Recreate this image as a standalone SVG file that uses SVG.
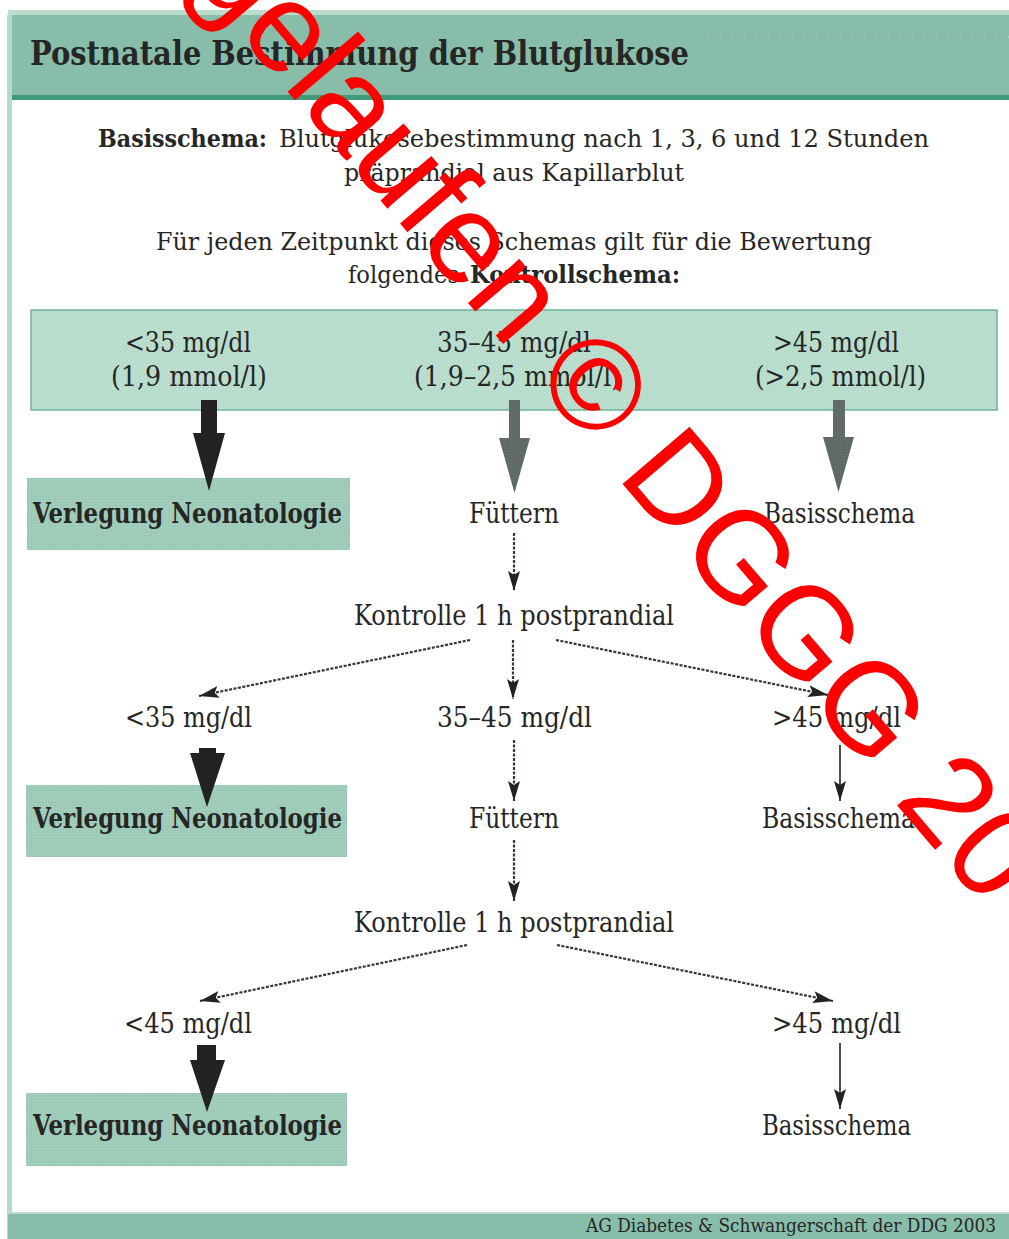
<svg xmlns="http://www.w3.org/2000/svg" width="1009" height="1239" viewBox="0 0 1009 1239">
<style>
.t{font-family:"DejaVu Serif Condensed","DejaVu Serif",serif;fill:#262626;font-size:27px}
.b{font-weight:bold}
.i{font-size:25px}
.dash{fill:none;stroke:#2e3a36;stroke-width:2.2;stroke-dasharray:3 1.5}
.solid{fill:none;stroke:#222;stroke-width:1.6}
.fatK{fill:#222}
.fatG{fill:url(#grayDots)}
.wm{font-family:"Liberation Sans",Arial,sans-serif;font-size:128px;fill:#ff0000}
</style>
<defs>
<pattern id="boxDots" width="4" height="4" patternUnits="userSpaceOnUse">
<rect width="4" height="4" fill="#b4dbca"/>
<circle cx="1" cy="1" r="0.6" fill="#ffffff" opacity="0.75"/>
<circle cx="3" cy="3" r="0.5" fill="#ffffff" opacity="0.5"/>
</pattern>
<pattern id="nodeDots" width="3" height="3" patternUnits="userSpaceOnUse">
<rect width="3" height="3" fill="#a2cfbc"/>
<circle cx="1" cy="1" r="0.6" fill="#7eae9b" opacity="0.8"/>
</pattern>
<pattern id="grayDots" width="3" height="3" patternUnits="userSpaceOnUse">
<rect width="3" height="3" fill="#5d6866"/>
<circle cx="1" cy="1" r="0.5" fill="#8a9693" opacity="0.7"/>
</pattern>
<marker id="ah" markerUnits="userSpaceOnUse" viewBox="0 0 20 12" refX="20" refY="6" markerWidth="20" markerHeight="12" orient="auto">
<path d="M0,0 L20,6 L0,12 L4,6 z" fill="#222"/>
</marker>
</defs>

<rect width="1009" height="1239" fill="#ffffff"/>

<g id="frame">
<rect x="8" y="10" width="1001" height="6" fill="#bcdccd"/>
<rect x="8" y="15" width="1001" height="80" fill="#88bdaa"/>
<line x1="708" y1="37" x2="1009" y2="37" stroke="#ffffff" stroke-width="1.2" stroke-dasharray="1 11" opacity="0.6"/>
<rect x="8" y="95" width="1001" height="5" fill="#3f9a78"/>
<rect x="7" y="15" width="5" height="1224" fill="#b5dac9"/>
<rect x="8" y="1212" width="1001" height="2" fill="#bcdccd"/>
<rect x="8" y="1214" width="1001" height="25" fill="#88bdaa"/>
<text class="t b" x="30" y="65" style="font-size:34px" textLength="659" lengthAdjust="spacingAndGlyphs">Postnatale Bestimmung der Blutglukose</text>
<text class="t" x="586" y="1232" style="font-size:19px" textLength="410" lengthAdjust="spacingAndGlyphs">AG Diabetes &amp; Schwangerschaft der DDG 2003</text>
</g>

<g id="intro">
<text class="t i b" x="98" y="147" textLength="169" lengthAdjust="spacingAndGlyphs">Basisschema:</text>
<text class="t i" x="279" y="147" textLength="650" lengthAdjust="spacingAndGlyphs">Blutglukosebestimmung nach 1, 3, 6 und 12 Stunden</text>
<text class="t i" x="344" y="181" textLength="340" lengthAdjust="spacingAndGlyphs">präprandial aus Kapillarblut</text>
<text class="t i" x="156" y="250" textLength="716" lengthAdjust="spacingAndGlyphs">Für jeden Zeitpunkt dieses Schemas gilt für die Bewertung</text>
<text class="t i" x="348" y="283" textLength="111" lengthAdjust="spacingAndGlyphs">folgendes</text>
<text class="t i b" x="470" y="283" textLength="210" lengthAdjust="spacingAndGlyphs">Kontrollschema:</text>
</g>

<g id="kontrollschema">
<rect x="31" y="310" width="966" height="100" fill="url(#boxDots)" stroke="#6fb497" stroke-width="1.5"/>
<text class="t" x="125" y="352" textLength="126" lengthAdjust="spacingAndGlyphs">&lt;35 mg/dl</text>
<text class="t" x="111" y="386" textLength="156" lengthAdjust="spacingAndGlyphs">(1,9 mmol/l)</text>
<text class="t" x="437" y="352" textLength="154" lengthAdjust="spacingAndGlyphs">35–45 mg/dl</text>
<text class="t" x="414" y="386" textLength="207" lengthAdjust="spacingAndGlyphs">(1,9–2,5 mmol/l)</text>
<text class="t" x="773" y="352" textLength="126" lengthAdjust="spacingAndGlyphs">&gt;45 mg/dl</text>
<text class="t" x="755" y="386" textLength="171" lengthAdjust="spacingAndGlyphs">(&gt;2,5 mmol/l)</text>
</g>

<g id="verlegung1">
<rect x="27" y="478" width="323" height="72" fill="url(#nodeDots)"/>
<text class="t b" x="33" y="523" textLength="309" lengthAdjust="spacingAndGlyphs">Verlegung Neonatologie</text>
</g>
<g id="fuettern1"><text class="t" x="469" y="523" textLength="90" lengthAdjust="spacingAndGlyphs">Füttern</text></g>
<g id="basisschema1"><text class="t" x="764" y="523" textLength="151" lengthAdjust="spacingAndGlyphs">Basisschema</text></g>
<g id="kontrolle1"><text class="t" x="354" y="625" textLength="320" lengthAdjust="spacingAndGlyphs">Kontrolle 1 h postprandial</text></g>
<g id="lt35"><text class="t" x="125" y="727" textLength="127" lengthAdjust="spacingAndGlyphs">&lt;35 mg/dl</text></g>
<g id="mid3545"><text class="t" x="437" y="727" textLength="155" lengthAdjust="spacingAndGlyphs">35–45 mg/dl</text></g>
<g id="gt45a"><text class="t" x="772" y="727" textLength="129" lengthAdjust="spacingAndGlyphs">&gt;45 mg/dl</text></g>
<g id="verlegung2">
<rect x="26" y="785" width="321" height="72" fill="url(#nodeDots)"/>
<text class="t b" x="33" y="828" textLength="309" lengthAdjust="spacingAndGlyphs">Verlegung Neonatologie</text>
</g>
<g id="fuettern2"><text class="t" x="469" y="828" textLength="90" lengthAdjust="spacingAndGlyphs">Füttern</text></g>
<g id="basisschema2"><text class="t" x="762" y="828" textLength="153" lengthAdjust="spacingAndGlyphs">Basisschema</text></g>
<g id="kontrolle2"><text class="t" x="354" y="932" textLength="320" lengthAdjust="spacingAndGlyphs">Kontrolle 1 h postprandial</text></g>
<g id="lt45"><text class="t" x="124" y="1033" textLength="128" lengthAdjust="spacingAndGlyphs">&lt;45 mg/dl</text></g>
<g id="gt45b"><text class="t" x="772" y="1033" textLength="129" lengthAdjust="spacingAndGlyphs">&gt;45 mg/dl</text></g>
<g id="verlegung3">
<rect x="26" y="1093" width="321" height="73" fill="url(#nodeDots)"/>
<text class="t b" x="33" y="1135" textLength="309" lengthAdjust="spacingAndGlyphs">Verlegung Neonatologie</text>
</g>
<g id="basisschema3"><text class="t" x="762" y="1135" textLength="149" lengthAdjust="spacingAndGlyphs">Basisschema</text></g>

<g id="connectors">
<polygon class="fatK" points="201,400 217,400 217,433 225,433 209,491 193,433 201,433"/>
<polygon class="fatG" points="509,400 520,400 520,438 530,438 514.5,493 499,438 509,438"/>
<polygon class="fatG" points="833,400 845,400 845,437 854,437 838.5,492 823,437 833,437"/>
<polygon class="fatK" points="199,748 216,748 216,753 225,753 207,807 190,753 199,753"/>
<polygon class="fatK" points="197,1045 216,1045 216,1060 225,1060 207,1112 190,1060 197,1060"/>
<line class="dash" x1="514" y1="533" x2="514" y2="591" marker-end="url(#ah)"/>
<line class="dash" x1="470" y1="640" x2="199" y2="696" marker-end="url(#ah)"/>
<line class="dash" x1="513" y1="640" x2="513" y2="699" marker-end="url(#ah)"/>
<line class="dash" x1="556" y1="640" x2="828" y2="695" marker-end="url(#ah)"/>
<line class="dash" x1="514" y1="740" x2="514" y2="801" marker-end="url(#ah)"/>
<line class="solid" x1="840" y1="745" x2="840" y2="801" marker-end="url(#ah)"/>
<line class="dash" x1="514" y1="840" x2="514" y2="901" marker-end="url(#ah)"/>
<line class="dash" x1="467" y1="945" x2="200" y2="1001" marker-end="url(#ah)"/>
<line class="dash" x1="557" y1="945" x2="833" y2="1001" marker-end="url(#ah)"/>
<line class="solid" x1="840" y1="1043" x2="840" y2="1109" marker-end="url(#ah)"/>
</g>

<g id="watermark">
<text class="wm" transform="translate(97,-131.4) rotate(49.5)">abgelaufen © DGGG 20</text>
</g>
</svg>
